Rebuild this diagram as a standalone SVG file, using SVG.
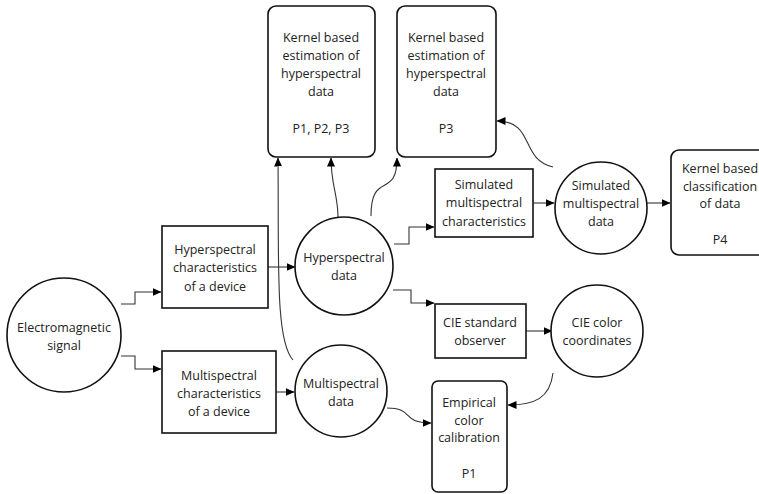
<svg xmlns="http://www.w3.org/2000/svg" width="759" height="494" viewBox="0 0 759 494">
<defs>
<marker id="ar" markerWidth="9" markerHeight="8" refX="8.5" refY="4" orient="auto" markerUnits="userSpaceOnUse">
<path d="M0,0 L9,4 L0,8 z" fill="#000"/>
</marker>
<style>
.n{fill:#fff;stroke:#111;stroke-width:1.6}
.t{font-family:"Open Sans","Noto Sans","DejaVu Sans",sans-serif;font-size:12.5px;fill:#222;text-anchor:middle}
.c{fill:none;stroke:#333;stroke-width:1.1;marker-end:url(#ar)}
</style>
</defs>
<rect width="759" height="494" fill="#fff"/>
<g id="connectors">
<path class="c" d="M121,304 H135 V292 H161"/>
<path class="c" d="M121,356 H135 V369 H161"/>
<path class="c" d="M268,267 H295"/>
<path class="c" d="M276,392 H294"/>
<path class="c" d="M338,217 C338,195 331,185 331,158"/>
<path class="c" d="M371,216 C371,170 397,200 397,158"/>
<path class="c" d="M293,360 C275,340 279,260 278,158"/>
<path class="c" d="M394,244 H409 V227 H434"/>
<path class="c" d="M393,290 H411 V303 H434"/>
<path class="c" d="M533,203 H554"/>
<path class="c" d="M553,167 C520,160 535,121 497,121"/>
<path class="c" d="M647,203 H670"/>
<path class="c" d="M526,331 H552"/>
<path class="c" d="M553,373 C550,398 535,405 508,405"/>
<path class="c" d="M387,408 C415,408 400,423 431,423"/>
</g>
<g id="em"><circle class="n" cx="64" cy="335" r="57"/><text class="t" x="64" y="332">Electromagnetic</text><text class="t" x="64" y="350">signal</text></g>
<g id="hyperchar"><rect class="n" x="162" y="226" width="106" height="82"/><text class="t" x="215" y="254">Hyperspectral</text><text class="t" x="215" y="272">characteristics</text><text class="t" x="215" y="291">of a device</text></g>
<g id="multichar"><rect class="n" x="162" y="351" width="114" height="82"/><text class="t" x="219" y="380">Multispectral</text><text class="t" x="219" y="398">characteristics</text><text class="t" x="219" y="416">of a device</text></g>
<g id="hyperdata"><circle class="n" cx="344" cy="266" r="49"/><text class="t" x="344" y="262">Hyperspectral</text><text class="t" x="344" y="280">data</text></g>
<g id="multidata"><circle class="n" cx="341" cy="391" r="46"/><text class="t" x="341" y="388">Multispectral</text><text class="t" x="341" y="406">data</text></g>
<g id="kernel1"><rect class="n" x="268" y="6" width="107" height="151" rx="8"/><text class="t" x="321" y="42">Kernel based</text><text class="t" x="321" y="60">estimation of</text><text class="t" x="321" y="78">hyperspectral</text><text class="t" x="321" y="96">data</text><text class="t" x="321" y="133">P1, P2, P3</text></g>
<g id="kernel2"><rect class="n" x="397" y="6" width="99" height="151" rx="8"/><text class="t" x="446" y="42">Kernel based</text><text class="t" x="446" y="60">estimation of</text><text class="t" x="446" y="78">hyperspectral</text><text class="t" x="446" y="96">data</text><text class="t" x="446" y="133">P3</text></g>
<g id="simchar"><rect class="n" x="435" y="169" width="98" height="68"/><text class="t" x="484" y="189">Simulated</text><text class="t" x="484" y="207">multispectral</text><text class="t" x="484" y="226">characteristics</text></g>
<g id="simdata"><circle class="n" cx="601" cy="208" r="46"/><text class="t" x="601" y="190">Simulated</text><text class="t" x="601" y="208">multispectral</text><text class="t" x="601" y="226">data</text></g>
<g id="kclass"><rect class="n" x="671" y="150" width="98" height="105" rx="8"/><text class="t" x="720" y="173">Kernel based</text><text class="t" x="720" y="191">classification</text><text class="t" x="720" y="208">of data</text><text class="t" x="720" y="244">P4</text></g>
<g id="ciestd"><rect class="n" x="435" y="304" width="91" height="54"/><text class="t" x="480" y="327">CIE standard</text><text class="t" x="480" y="345">observer</text></g>
<g id="ciecoord"><circle class="n" cx="597" cy="331" r="46"/><text class="t" x="597" y="327">CIE color</text><text class="t" x="597" y="345">coordinates</text></g>
<g id="empirical"><rect class="n" x="432" y="381" width="75" height="111" rx="6"/><text class="t" x="469" y="407">Empirical</text><text class="t" x="469" y="425">color</text><text class="t" x="469" y="442">calibration</text><text class="t" x="469" y="478">P1</text></g>
</svg>
